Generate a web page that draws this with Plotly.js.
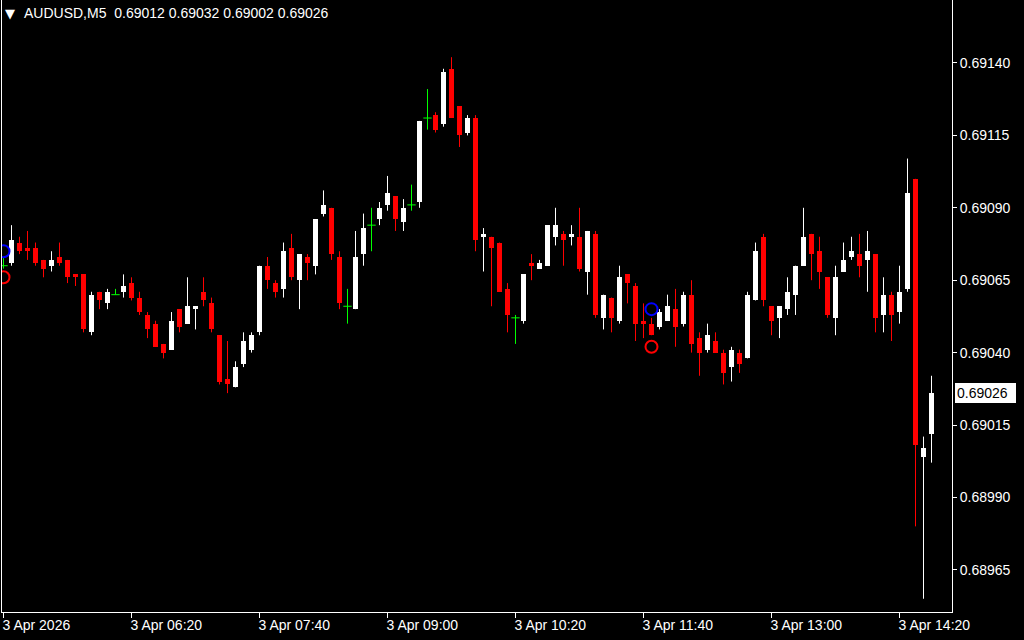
<!DOCTYPE html>
<html><head><meta charset="utf-8">
<script src="https://cdn.plot.ly/plotly-3.0.1.min.js"></script>
<style>html,body{margin:0;padding:0;background:#000;}#chart{width:1024px;height:640px;}</style>
</head><body><div id="chart"></div>
<script>
const symbolName = 'AUDUSD';
const periodName = 'M5';
const dayPrefix = '2026-04-03 ';
const times = [
'05:00','05:05','05:10','05:15','05:20','05:25','05:30','05:35','05:40','05:45','05:50','05:55',
'06:00','06:05','06:10','06:15','06:20','06:25','06:30','06:35','06:40','06:45','06:50','06:55',
'07:00','07:05','07:10','07:15','07:20','07:25','07:30','07:35','07:40','07:45','07:50','07:55',
'08:00','08:05','08:10','08:15','08:20','08:25','08:30','08:35','08:40','08:45','08:50','08:55',
'09:00','09:05','09:10','09:15','09:20','09:25','09:30','09:35','09:40','09:45','09:50','09:55',
'10:00','10:05','10:10','10:15','10:20','10:25','10:30','10:35','10:40','10:45','10:50','10:55',
'11:00','11:05','11:10','11:15','11:20','11:25','11:30','11:35','11:40','11:45','11:50','11:55',
'12:00','12:05','12:10','12:15','12:20','12:25','12:30','12:35','12:40','12:45','12:50','12:55',
'13:00','13:05','13:10','13:15','13:20','13:25','13:30','13:35','13:40','13:45','13:50','13:55',
'14:00','14:05','14:10','14:15','14:20','14:25','14:30','14:35','14:40'];
const opens = [
0.69070,0.69071,0.69078,0.69076,0.69076,0.69072,0.69070,0.69073,0.69072,0.69067,
0.69067,0.69047,0.69061,0.69057,0.69060,0.69061,0.69064,0.69059,0.69053,0.69050,
0.69043,0.69041,0.69055,0.69050,0.69055,0.69061,0.69057,0.69046,0.69031,0.69028,
0.69036,0.69041,0.69047,0.69070,0.69064,0.69062,0.69076,0.69065,0.69073,0.69070,
0.69088,0.69090,0.69073,0.69056,0.69055,0.69074,0.69084,0.69086,0.69091,0.69094,
0.69085,0.69091,0.69092,0.69121,0.69122,0.69119,0.69138,0.69125,0.69116,0.69121,
0.69080,0.69080,0.69078,0.69062,0.69052,0.69051,0.69071,0.69069,0.69070,0.69080,
0.69081,0.69080,0.69080,0.69068,0.69081,0.69052,0.69059,0.69051,0.69067,0.69063,
0.69051,0.69050,0.69049,0.69051,0.69055,0.69050,0.69060,0.69045,0.69041,0.69044,
0.69040,0.69035,0.69040,0.69038,0.69058,0.69080,0.69056,0.69052,0.69055,0.69060,
0.69070,0.69081,0.69075,0.69066,0.69052,0.69068,0.69073,0.69074,0.69072,0.69074,
0.69053,0.69060,0.69054,0.69062,0.69100,0.69004,0.69012];
const highs = [
0.69073,0.69084,0.69080,0.69082,0.69078,0.69072,0.69075,0.69078,0.69072,0.69067,
0.69067,0.69061,0.69061,0.69062,0.69062,0.69067,0.69066,0.69061,0.69054,0.69051,
0.69043,0.69054,0.69055,0.69066,0.69056,0.69066,0.69059,0.69046,0.69044,0.69037,
0.69047,0.69047,0.69070,0.69073,0.69065,0.69078,0.69081,0.69074,0.69074,0.69086,
0.69096,0.69090,0.69075,0.69062,0.69082,0.69088,0.69090,0.69092,0.69101,0.69094,
0.69093,0.69098,0.69120,0.69131,0.69123,0.69138,0.69142,0.69125,0.69122,0.69122,
0.69083,0.69080,0.69078,0.69064,0.69053,0.69067,0.69074,0.69072,0.69084,0.69090,
0.69082,0.69084,0.69090,0.69082,0.69082,0.69060,0.69059,0.69070,0.69067,0.69064,
0.69057,0.69052,0.69055,0.69060,0.69062,0.69061,0.69065,0.69047,0.69050,0.69047,
0.69041,0.69042,0.69041,0.69061,0.69078,0.69081,0.69056,0.69056,0.69066,0.69070,
0.69090,0.69081,0.69080,0.69066,0.69070,0.69078,0.69080,0.69081,0.69082,0.69074,
0.69066,0.69061,0.69070,0.69107,0.69100,0.69011,0.69032];
const lows = [
0.69069,0.69070,0.69074,0.69072,0.69070,0.69066,0.69068,0.69070,0.69064,0.69063,
0.69047,0.69046,0.69055,0.69055,0.69060,0.69059,0.69058,0.69053,0.69045,0.69042,
0.69038,0.69041,0.69047,0.69050,0.69048,0.69056,0.69047,0.69029,0.69026,0.69028,
0.69035,0.69040,0.69046,0.69062,0.69059,0.69059,0.69065,0.69055,0.69065,0.69067,
0.69087,0.69072,0.69055,0.69050,0.69055,0.69070,0.69075,0.69084,0.69089,0.69082,
0.69082,0.69089,0.69090,0.69117,0.69116,0.69118,0.69121,0.69111,0.69115,0.69075,
0.69068,0.69056,0.69061,0.69047,0.69043,0.69050,0.69065,0.69069,0.69070,0.69077,
0.69070,0.69077,0.69068,0.69060,0.69052,0.69048,0.69047,0.69050,0.69057,0.69044,
0.69045,0.69046,0.69048,0.69051,0.69042,0.69049,0.69040,0.69032,0.69040,0.69040,
0.69029,0.69030,0.69033,0.69038,0.69058,0.69056,0.69046,0.69045,0.69053,0.69053,
0.69070,0.69065,0.69062,0.69052,0.69046,0.69068,0.69072,0.69066,0.69061,0.69047,
0.69047,0.69044,0.69050,0.69061,0.68980,0.68955,0.69002];
const closes = [
0.69070,0.69079,0.69075,0.69075,0.69071,0.69069,0.69072,0.69071,0.69066,0.69066,
0.69048,0.69060,0.69058,0.69061,0.69060,0.69063,0.69059,0.69054,0.69048,0.69042,
0.69040,0.69051,0.69049,0.69056,0.69056,0.69058,0.69048,0.69030,0.69029,0.69035,
0.69044,0.69046,0.69070,0.69065,0.69061,0.69075,0.69066,0.69074,0.69071,0.69086,
0.69091,0.69074,0.69057,0.69056,0.69073,0.69083,0.69084,0.69090,0.69095,0.69086,
0.69090,0.69091,0.69120,0.69121,0.69117,0.69137,0.69121,0.69115,0.69121,0.69079,
0.69081,0.69076,0.69061,0.69053,0.69052,0.69067,0.69070,0.69071,0.69084,0.69084,
0.69079,0.69081,0.69069,0.69082,0.69053,0.69060,0.69052,0.69066,0.69064,0.69050,
0.69050,0.69046,0.69054,0.69056,0.69049,0.69060,0.69043,0.69040,0.69046,0.69040,
0.69033,0.69041,0.69036,0.69060,0.69075,0.69058,0.69051,0.69056,0.69061,0.69070,
0.69080,0.69074,0.69068,0.69053,0.69066,0.69072,0.69075,0.69070,0.69075,0.69052,
0.69060,0.69053,0.69061,0.69095,0.69008,0.69007,0.69026];
// indicator circles
const blueMarkTimes = ['05:00','11:45'];
const blueMarkPrices = [0.69075, 0.69055];
const redMarkTimes = ['05:00','11:45'];
const redMarkPrices = [0.69066, 0.69042];
// axis ticks
const xTickTimes = ['05:00','06:20','07:40','09:00','10:20','11:40','13:00','14:20'];
const xTickLabels = ['3 Apr 2026','3 Apr 06:20','3 Apr 07:40','3 Apr 09:00','3 Apr 10:20','3 Apr 11:40','3 Apr 13:00','3 Apr 14:20'];
const yTickValues = [0.68965,0.68990,0.69015,0.69040,0.69065,0.69090,0.69115,0.69140];

const T = times.map(t => dayPrefix + t);
const BAR_MS = 5*60*1000;
const bodyWidth = BAR_MS*5/8;
const WHITE='#ffffff', RED='#ff0000', GREEN='#00ff00', BLUE='#0000ff';

const g = {up:{x:[],base:[],h:[],wx:[],wy:[]}, down:{x:[],base:[],h:[],wx:[],wy:[]}, doji:{x:[],y:[],wx:[],wy:[]}};
for (let i=0;i<T.length;i++){
  const o=opens[i], c=closes[i];
  const k = c>o ? 'up' : (c<o ? 'down' : 'doji');
  const d = g[k];
  d.wx.push(T[i],T[i],null); d.wy.push(lows[i],highs[i],null);
  if (k==='doji'){ d.x.push(T[i]); d.y.push(o); }
  else { d.x.push(T[i]); d.base.push(Math.min(o,c)); d.h.push(Math.abs(c-o)); }
}
const wick = (d,col)=>({type:'scatter',mode:'lines',x:d.wx,y:d.wy,line:{color:col,width:1},hoverinfo:'skip',connectgaps:false});
const body = (d,col)=>({type:'bar',x:d.x,base:d.base,y:d.h,width:bodyWidth,marker:{color:col,line:{width:0}},hoverinfo:'skip'});
const traces = [
  wick(g.up,WHITE), wick(g.down,RED), wick(g.doji,GREEN),
  body(g.up,WHITE), body(g.down,RED),
  {type:'scatter',mode:'markers',x:g.doji.x,y:g.doji.y,marker:{symbol:'line-ew-open',size:6,color:GREEN,line:{color:GREEN,width:1}},hoverinfo:'skip'},
  {type:'scatter',mode:'markers',x:blueMarkTimes.map(t=>dayPrefix+t),y:blueMarkPrices,marker:{symbol:'circle-open',size:12,color:BLUE,line:{color:BLUE,width:2}},hoverinfo:'skip'},
  {type:'scatter',mode:'markers',x:redMarkTimes.map(t=>dayPrefix+t),y:redMarkPrices,marker:{symbol:'circle-open',size:12,color:RED,line:{color:RED,width:2}},hoverinfo:'skip'}
];

const last = T.length-1;
const fmt = v => v.toFixed(5);
const font = {family:'"Liberation Sans", Arial, sans-serif', size:14, color:'#ffffff'};
const layout = {
  width:1024, height:640,
  paper_bgcolor:'#000000', plot_bgcolor:'#000000',
  margin:{l:2, r:72, t:0, b:28, pad:0},
  showlegend:false, hovermode:false, barmode:'overlay', bargap:0,
  font: font,
  xaxis:{type:'date', range:['2026-04-03 04:59:03.75','2026-04-03 14:52:48.75'],
    showgrid:false, zeroline:false, showline:true, linecolor:'#ffffff', linewidth:1,
    ticks:'outside', ticklen:5, tickcolor:'#ffffff', tickwidth:1,
    tickvals: xTickTimes.map(t=>dayPrefix+t), ticktext: xTickLabels,
    ticklabelposition:'outside right', ticklabelshift:-2, tickfont:font, fixedrange:true},
  yaxis:{range:[0.6895043,0.6916175], side:'right',
    showgrid:false, zeroline:false, showline:true, mirror:true, linecolor:'#ffffff', linewidth:1,
    ticks:'outside', ticklen:4, tickcolor:'#ffffff', tickwidth:1,
    tickvals:yTickValues, tickformat:'.5f', tickfont:font, fixedrange:true},
  annotations:[
    {xref:'paper', yref:'paper', x:0, y:1, xanchor:'left', yanchor:'middle', xshift:1, yshift:-13,
     text:'\u25BC', showarrow:false, font:{family:'"DejaVu Sans", sans-serif', size:13, color:'#ffffff'}},
    {xref:'paper', yref:'paper', x:0, y:1, xanchor:'left', yanchor:'middle', xshift:20, yshift:-13,
     text: symbolName + ',' + periodName + '\u00a0\u00a0' + fmt(opens[last]) + ' ' + fmt(highs[last]) + ' ' + fmt(lows[last]) + ' ' + fmt(closes[last]),
     showarrow:false, font:font},
    {xref:'paper', yref:'y', x:1, y:closes[last], xanchor:'left', yanchor:'middle', xshift:3,
     text: fmt(closes[last]), showarrow:false, bgcolor:'#ffffff', borderpad:2, borderwidth:0,
     width:57, align:'left',
     font:{family:font.family, size:14, color:'#000000'}}
  ]
};
Plotly.newPlot('chart', traces, layout, {staticPlot:true, displayModeBar:false});
</script>
</body></html>
